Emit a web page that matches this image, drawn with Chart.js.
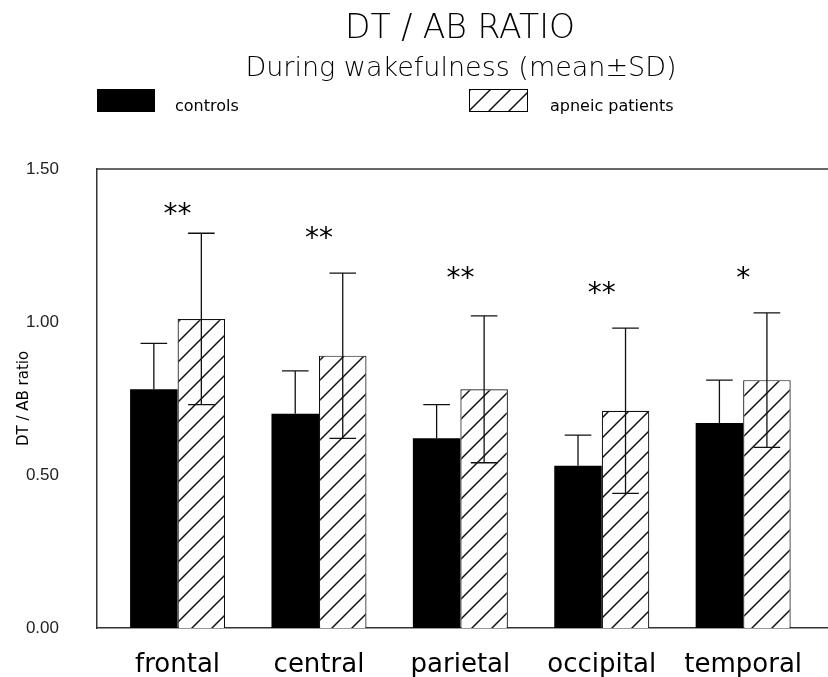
<!DOCTYPE html>
<html>
<head>
<meta charset="utf-8">
<title>DT / AB ratio</title>
<script src="https://cdn.jsdelivr.net/npm/chart.js@4.4.1/dist/chart.umd.min.js"></script>
<style>
  html, body { margin: 0; padding: 0; background: #fff; }
  #chart { display: block; }
</style>
</head>
<body>
<canvas id="chart" width="828" height="677"></canvas>
<script>
const regions = ["frontal", "central", "parietal", "occipital", "temporal"];
const controlsMean = [0.78, 0.70, 0.62, 0.53, 0.67];
const controlsSD = [0.15, 0.14, 0.11, 0.10, 0.14];
const apneicMean = [1.01, 0.89, 0.78, 0.71, 0.81];
const apneicSD = [0.28, 0.27, 0.24, 0.27, 0.22];
const significance = ["**", "**", "**", "**", "*"];
const starLevel = [1.37, 1.29, 1.16, 1.11, 1.16];
const yTicks = [0, 0.5, 1.0, 1.5];

const FONT = "'DejaVu Sans', Arial, sans-serif";
const LIGHT = 200;
const INK = "#000";

const canvas = document.getElementById("chart");
const ctx = canvas.getContext("2d");

function makeHatch() {
  const tile = document.createElement("canvas");
  tile.width = 20;
  tile.height = 20;
  const g = tile.getContext("2d");
  g.fillStyle = "#fff";
  g.fillRect(0, 0, 20, 20);
  g.strokeStyle = "#111";
  g.lineWidth = 1.5;
  g.beginPath();
  g.moveTo(0, 20); g.lineTo(20, 0);
  g.moveTo(-5, 5); g.lineTo(5, -5);
  g.moveTo(15, 25); g.lineTo(25, 15);
  g.stroke();
  return ctx.createPattern(tile, "repeat");
}

const hatch = makeHatch();

function toPoints(values) {
  return values.map((v, i) => ({ x: i, y: v }));
}

const errorBarPlugin = {
  id: "errorBars",
  afterDatasetsDraw(chart) {
    const { ctx, chartArea, scales: { x, y } } = chart;
    const series = [
      { index: 0, mean: controlsMean, sd: controlsSD, both: false },
      { index: 1, mean: apneicMean, sd: apneicSD, both: true }
    ];

    ctx.save();
    ctx.strokeStyle = "#111";
    ctx.lineWidth = 1.3;
    series.forEach((s) => {
      chart.getDatasetMeta(s.index).data.forEach((bar, i) => {
        const cap = bar.width * 0.28;
        const top = y.getPixelForValue(s.mean[i] + s.sd[i]);
        const bottom = y.getPixelForValue(s.both ? s.mean[i] - s.sd[i] : s.mean[i]);
        ctx.beginPath();
        ctx.moveTo(bar.x, bottom);
        ctx.lineTo(bar.x, top);
        ctx.moveTo(bar.x - cap, top);
        ctx.lineTo(bar.x + cap, top);
        if (s.both) {
          ctx.moveTo(bar.x - cap, bottom);
          ctx.lineTo(bar.x + cap, bottom);
        }
        ctx.stroke();
      });
    });

    // significance stars over each group
    ctx.fillStyle = INK;
    ctx.font = `28px ${FONT}`;
    ctx.textAlign = "center";
    ctx.textBaseline = "alphabetic";
    significance.forEach((mark, i) => {
      const m = ctx.measureText(mark);
      const cy = y.getPixelForValue(starLevel[i]);
      const shift = (m.actualBoundingBoxAscent - m.actualBoundingBoxDescent) / 2;
      ctx.fillText(mark, x.getPixelForValue(i), cy + shift);
    });

    // top edge of the frame
    ctx.strokeStyle = "#333";
    ctx.lineWidth = 1.5;
    ctx.beginPath();
    ctx.moveTo(chartArea.left, chartArea.top);
    ctx.lineTo(chartArea.right, chartArea.top);
    ctx.stroke();
    ctx.restore();
  }
};

const headerPlugin = {
  id: "header",
  beforeDraw(chart) {
    const { ctx, width, height } = chart;
    ctx.save();
    ctx.fillStyle = "#fff";
    ctx.fillRect(0, 0, width, height);
    ctx.restore();
  },
  afterDraw(chart) {
    const { ctx } = chart;
    ctx.save();
    ctx.fillStyle = INK;
    ctx.textBaseline = "alphabetic";
    ctx.textAlign = "center";
    ctx.font = `${LIGHT} 33px ${FONT}`;
    ctx.fillText("DT / AB RATIO", 460, 38);
    ctx.font = `${LIGHT} 27px ${FONT}`;
    ctx.fillText("During wakefulness (mean\u00B1SD)", 461, 76);

    // legend
    ctx.textAlign = "left";
    ctx.font = `16px ${FONT}`;
    ctx.fillRect(97, 89, 58, 23);
    ctx.fillText("controls", 175, 111);

    ctx.fillStyle = hatch;
    ctx.fillRect(469, 89, 59, 23);
    ctx.strokeStyle = INK;
    ctx.lineWidth = 1;
    ctx.strokeRect(469.5, 89.5, 58, 22);
    ctx.fillStyle = INK;
    ctx.fillText("apneic patients", 550, 111);
    ctx.restore();
  }
};

new Chart(canvas, {
  type: "bar",
  data: {
    datasets: [
      {
        label: "controls",
        data: toPoints(controlsMean),
        backgroundColor: "#000",
        borderWidth: 0
      },
      {
        label: "apneic patients",
        data: toPoints(apneicMean),
        backgroundColor: hatch,
        borderColor: "#111",
        borderWidth: 1.2
      }
    ]
  },
  options: {
    responsive: false,
    animation: false,
    layout: { padding: { top: 169, right: 0, bottom: 0, left: 0 } },
    datasets: {
      bar: { categoryPercentage: 0.672, barPercentage: 1.0 }
    },
    plugins: {
      legend: { display: false },
      tooltip: { enabled: false },
      title: { display: false }
    },
    scales: {
      x: {
        type: "linear",
        offset: false,
        min: -0.57,
        max: 4.6,
        grid: { display: false, offset: false },
        border: { display: true, color: "#333", width: 1.5 },
        afterBuildTicks(axis) {
          axis.ticks = regions.map((_, i) => ({ value: i }));
        },
        afterFit(axis) {
          axis.height = 49;
        },
        ticks: {
          autoSkip: false,
          maxRotation: 0,
          padding: 14,
          color: INK,
          font: { family: FONT, size: 26 },
          callback: (value) => regions[value]
        }
      },
      y: {
        min: 0,
        max: 1.5,
        grid: { display: false },
        border: { display: true, color: "#333", width: 1.5 },
        afterBuildTicks(axis) {
          axis.ticks = yTicks.map((value) => ({ value }));
        },
        afterFit(axis) {
          axis.width = 97;
        },
        ticks: {
          padding: 30,
          color: "#222",
          font: { family: "'Liberation Sans', Arial, sans-serif", size: 17 },
          callback: (value) => Number(value).toFixed(2)
        },
        title: {
          display: true,
          text: "DT / AB ratio",
          color: INK,
          padding: { top: 15, bottom: 0 },
          font: { family: FONT, size: 15 }
        }
      }
    }
  },
  plugins: [headerPlugin, errorBarPlugin]
});
</script>
</body>
</html>
